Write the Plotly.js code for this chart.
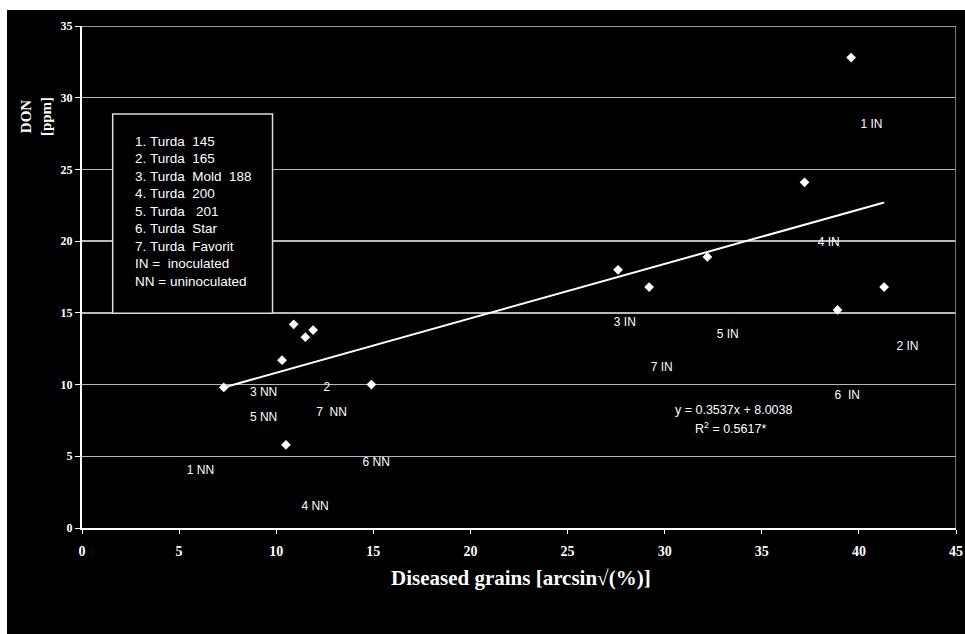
<!DOCTYPE html>
<html>
<head>
<meta charset="utf-8">
<script src="https://cdn.plot.ly/plotly-3.0.1.min.js"></script>
<style>
html,body{margin:0;padding:0;background:#ffffff;width:965px;height:634px;overflow:hidden;}
#chart{position:absolute;left:7px;top:10px;width:958px;height:624px;}
</style>
</head>
<body>
<div id="chart"></div>
<script>
// Data
var nn_x = [7.3, 10.3, 10.9, 11.5, 11.9, 10.5, 14.9];
var nn_y = [9.8, 11.7, 14.2, 13.3, 13.8, 5.8, 10.0];
var in_x = [27.6, 29.2, 32.2, 37.2, 39.6, 41.3, 38.9];
var in_y = [18.0, 16.8, 18.9, 24.1, 32.8, 16.8, 15.2];
var trend_x = [7.3, 41.3];
var trend_y = [9.8, 22.7];

var label_text = ["1 IN", "4 IN", "2 IN", "6  IN", "5 IN", "3 IN", "7 IN",
                  "3 NN", "5 NN", "2", "7  NN", "6 NN", "1 NN", "4 NN"];
var label_x = [40.65, 38.45, 42.5, 39.4, 33.25, 27.95, 29.85,
               9.35, 9.35, 12.6, 12.85, 15.15, 6.1, 12.0];
var label_y = [28.1, 19.85, 12.6, 9.2, 13.45, 14.3, 11.15,
               9.4, 7.7, 9.75, 8.05, 4.5, 4.0, 1.45];

var legend_lines = ["1. Turda  145", "2. Turda  165", "3. Turda  Mold  188", "4. Turda  200",
                    "5. Turda   201", "6. Turda  Star", "7. Turda  Favorit",
                    "IN =  inoculated", "NN = uninoculated"];

var eq_lines = ["y = 0.3537x + 8.0038", "R<sup>2</sup> = 0.5617*"];

var x_ticks = [0, 5, 10, 15, 20, 25, 30, 35, 40, 45];
var y_ticks = [0, 5, 10, 15, 20, 25, 30, 35];

function nb(s){ return s.replace(/ /g, "\u00a0"); }

var sans = "Liberation Sans, Arial, sans-serif";
var serif = "Liberation Serif, Times New Roman, serif";

var traces = [
  {x: trend_x, y: trend_y, mode: "lines", type: "scatter",
   line: {color: "#ffffff", width: 2}, hoverinfo: "skip"},
  {x: nn_x, y: nn_y, mode: "markers", type: "scatter",
   marker: {symbol: "diamond", size: 7.5, color: "#ffffff"}},
  {x: in_x, y: in_y, mode: "markers", type: "scatter",
   marker: {symbol: "diamond", size: 7.5, color: "#ffffff"}},
  {x: label_x, y: label_y, mode: "text", type: "scatter",
   text: label_text.map(nb), textposition: "middle center",
   textfont: {family: sans, size: 12, color: "#ffffff"}, hoverinfo: "skip"}
];

var yPerPx = 35 / 502;
var annotations = [];
for (var i = 0; i < legend_lines.length; i++) {
  annotations.push({
    xref: "x", yref: "y", x: 2.6, y: (528 - (141 + i * 17.5)) * yPerPx,
    xanchor: "left", yanchor: "middle", showarrow: false, align: "left",
    text: nb(legend_lines[i]),
    font: {family: sans, size: 13.5, color: "#ffffff"}
  });
}
annotations.push({
  xref: "x", yref: "y", x: 33.55, y: 8.22, showarrow: false,
  text: eq_lines[0], font: {family: sans, size: 12.5, color: "#ffffff"}
});
annotations.push({
  xref: "x", yref: "y", x: 33.4, y: 6.95, showarrow: false,
  text: eq_lines[1], font: {family: sans, size: 12.5, color: "#ffffff"}
});
annotations.push({
  xref: "paper", yref: "paper", x: -0.076, y: 0.8625, showarrow: false,
  textangle: -90, text: "<b>DON<br>[ppm]</b>",
  font: {family: serif, size: 15, color: "#ffffff"}
});
annotations.push({
  xref: "paper", yref: "paper", x: 0.5025, y: -0.0996, yanchor: "middle", showarrow: false,
  text: "<b>Diseased grains [arcsin\u221a(%)]</b>",
  font: {family: serif, size: 21, color: "#ffffff"}
});

var layout = {
  width: 958, height: 624,
  margin: {l: 75, r: 9, t: 16, b: 106},
  paper_bgcolor: "#000000", plot_bgcolor: "#000000",
  showlegend: false,
  xaxis: {
    range: [0, 45], tickvals: x_ticks, ticktext: x_ticks.map(String),
    showgrid: false, zeroline: false,
    showline: true, linecolor: "#ffffff", linewidth: 2,
    ticks: "outside", ticklen: 4, tickcolor: "#ffffff", tickwidth: 1,
    ticklabelstandoff: 5,
    tickfont: {family: serif, size: 14, color: "#ffffff", weight: "bold"}
  },
  yaxis: {
    range: [0, 35], tickvals: y_ticks, ticktext: y_ticks.map(String),
    showgrid: true, gridcolor: "#b8b8b8", gridwidth: 1.5, zeroline: false,
    showline: true, linecolor: "#ffffff", linewidth: 2,
    ticks: "outside", ticklen: 5, tickcolor: "#ffffff", tickwidth: 1,
    tickfont: {family: serif, size: 12, color: "#ffffff", weight: "bold"}
  },
  shapes: [
    {type: "line", xref: "x", yref: "paper", x0: 45, x1: 45, y0: 0, y1: 1,
     line: {color: "#999999", width: 1.5}},
    {type: "line", xref: "paper", yref: "y", x0: 0, x1: 1, y0: 35, y1: 35,
     line: {color: "#c8c8c8", width: 1.5}},
    {type: "rect", xref: "x", yref: "y", x0: 1.58, x1: 9.81, y0: 14.97, y1: 28.87,
     fillcolor: "#000000", line: {color: "#dddddd", width: 1.5}, layer: "above"}
  ],
  annotations: annotations
};

Plotly.newPlot("chart", traces, layout, {displayModeBar: false, staticPlot: true});
</script>
</body>
</html>
